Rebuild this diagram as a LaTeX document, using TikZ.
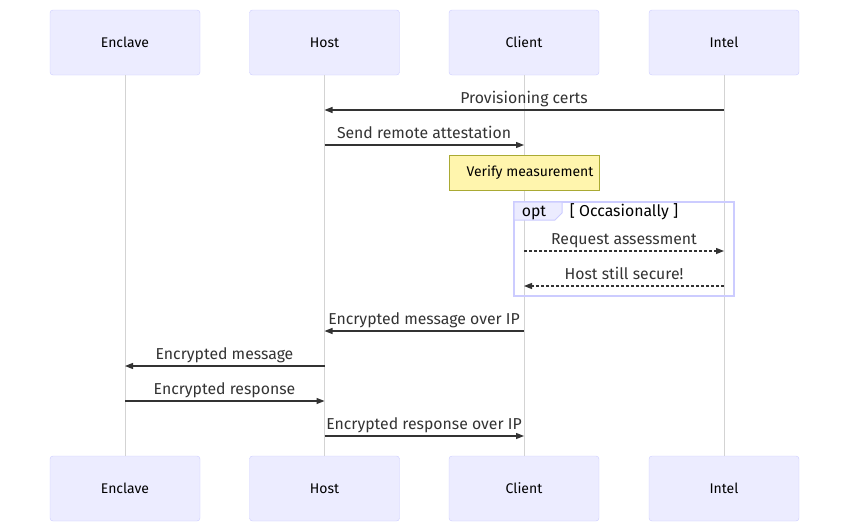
\documentclass[tikz,border=0pt]{standalone}
\usepackage{fontspec}
\setmainfont{Fira Sans}
\usetikzlibrary{arrows.meta}
\definecolor{actorfill}{HTML}{ECECFF}
\definecolor{actorline}{HTML}{CCCCFF}
\definecolor{lifegray}{HTML}{D3D3D3}
\definecolor{notefill}{HTML}{FFF5AD}
\definecolor{noteline}{HTML}{AAAA33}
\definecolor{msgcol}{HTML}{333333}
\tikzset{
    actor/.style = {draw=actorline, fill=actorfill, rounded corners=3pt,
        minimum width=150pt, minimum height=65pt, inner sep=0pt,
        font=\fontsize{14}{16}\selectfont},
    lifeline/.style = {draw=lifegray, line width=0.8pt},
    msg/.style = {draw=msgcol, line width=1.3pt,
        -{Triangle[length=8pt, width=6pt]}},
    reply/.style = {msg, dash pattern=on 3pt off 2pt},
    msglabel/.style = {text=msgcol, font=\fontsize{15.8}{18}\selectfont,
        anchor=base, inner sep=0pt},
}
\begin{document}
\begin{tikzpicture}[x=1pt, y=-1pt]
    \useasboundingbox (0,0) rectangle (850,522);
    % actors, top and bottom
    \node[actor] (enclT) at (125,42.5) {Enclave};
    \node[actor] (hostT) at (324.5,42.5) {Host};
    \node[actor] (clieT) at (524,42.5) {Client};
    \node[actor] (inteT) at (724,42.5) {Intel};
    \node[actor] (enclB) at (125,488.5) {Enclave};
    \node[actor] (hostB) at (324.5,488.5) {Host};
    \node[actor] (clieB) at (524,488.5) {Client};
    \node[actor] (inteB) at (724,488.5) {Intel};
    % lifelines
    \draw[lifeline] (enclT) -- (enclB);
    \draw[lifeline] (hostT) -- (hostB);
    \draw[lifeline] (clieT) -- (clieB);
    \draw[lifeline] (inteT) -- (inteB);
    % note
    \node[draw=noteline, fill=notefill, minimum width=150pt, minimum height=35pt,
        inner sep=0pt, font=\fontsize{14}{16}\selectfont]
        (verify) at (524,172.5) {\hspace*{12pt}Verify measurement};
    % opt frame
    \draw[actorline, line width=1.5pt] (514,202) rectangle (734,296);
    \draw[actorline, fill=actorfill, line width=1pt]
        (514,202) -- (562,202) -- (562,213) -- (555,220) -- (514,220) -- cycle;
    \node[anchor=base, font=\fontsize{15.8}{18}\selectfont, inner sep=0pt]
        (optkw) at (534,216) {opt};
    \node[anchor=base, font=\fontsize{15.8}{18}\selectfont, inner sep=0pt]
        (optcond) at (624,216) {[ Occasionally ]};
    % messages
    \draw[msg] (inteT |- 0,110) -- (hostT |- 0,110);
    \node[msglabel] (m1) at (524,103) {Provisioning certs};
    \draw[msg] (hostT |- 0,145) -- (clieT |- 0,145);
    \node[msglabel] (m2) at (424,138) {Send remote attestation};
    \draw[reply] (clieT |- 0,251) -- (inteT |- 0,251);
    \node[msglabel] (m3) at (624,244) {Request assessment};
    \draw[reply] (inteT |- 0,286) -- (clieT |- 0,286);
    \node[msglabel] (m4) at (624,279) {Host still secure!};
    \draw[msg] (clieT |- 0,331) -- (hostT |- 0,331);
    \node[msglabel] (m5) at (424,324) {Encrypted message over IP};
    \draw[msg] (hostT |- 0,366) -- (enclT |- 0,366);
    \node[msglabel] (m6) at (224.5,359) {Encrypted message};
    \draw[msg] (enclT |- 0,401) -- (hostT |- 0,401);
    \node[msglabel] (m7) at (224.5,394) {Encrypted response};
    \draw[msg] (hostT |- 0,436) -- (clieT |- 0,436);
    \node[msglabel] (m8) at (424,429) {Encrypted response over IP};
\end{tikzpicture}
\end{document}
